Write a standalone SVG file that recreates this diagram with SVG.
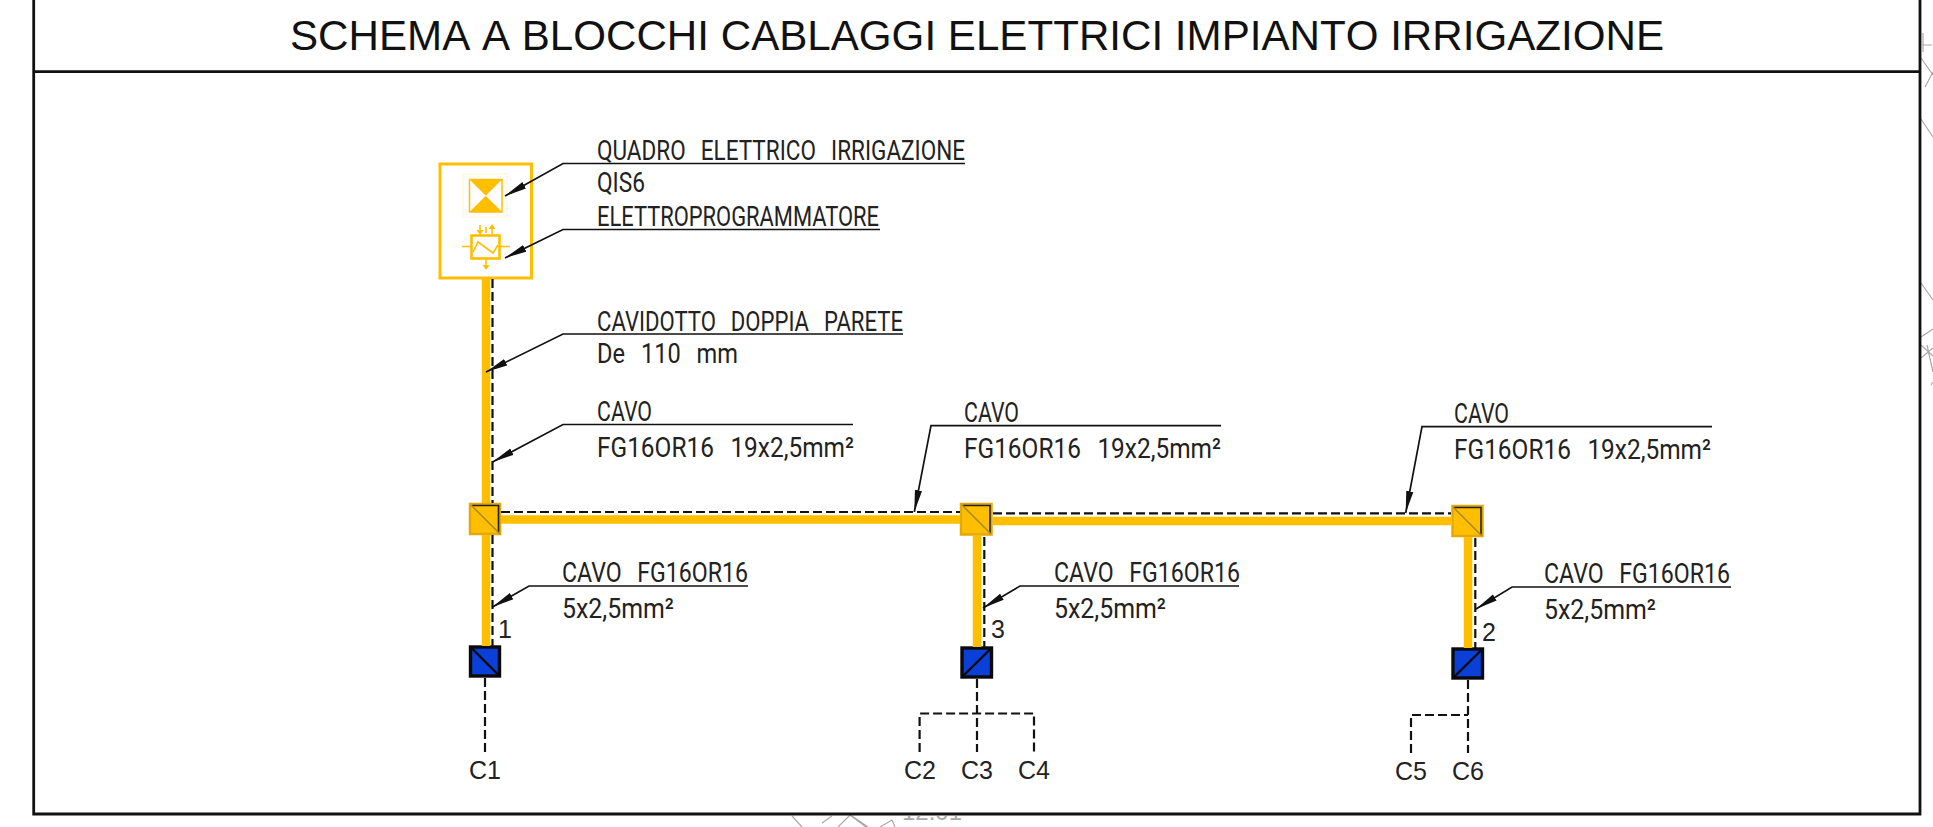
<svg xmlns="http://www.w3.org/2000/svg" width="1933" height="827" viewBox="0 0 1933 827">
<style>
.frame{stroke:#111;stroke-width:2.8;fill:none}
.bg{stroke:#a8a8a8;stroke-width:1.2;fill:none}
.duct{stroke:#ffbf00;stroke-width:8.5;fill:none}
.dash{stroke:#111;stroke-width:2.2;fill:none;stroke-dasharray:9 4}
.lead{stroke:#111;stroke-width:1.7;fill:none;marker-end:url(#arrow)}
.cad{font-family:"Roboto","Liberation Sans",sans-serif;font-weight:400;font-size:28px;fill:#222;white-space:pre;word-spacing:2.5px}
.lab{font-family:"Liberation Sans",Arial,sans-serif;font-size:25px;fill:#222;text-anchor:middle}
.title{font-family:"Liberation Sans",Arial,sans-serif;font-size:43px;fill:#111;font-kerning:none}
.box{fill:#ffbf00;stroke:#e3a900;stroke-width:2.5}
.inner{fill:none;stroke:#222;stroke-width:1.6}
.diag{stroke:#a88a20;stroke-width:1.5;fill:none}
.blue{fill:#0a3fd8;stroke:#0a0a0a;stroke-width:3.4}
.sym{stroke:#ffbf00;fill:none}
</style>
<defs>
<marker id="arrow" markerUnits="userSpaceOnUse" markerWidth="24" markerHeight="10" refX="22" refY="4" orient="auto"><path d="M0 0.4L22 4L0 7.600z" fill="#111"/></marker>
<clipPath id="below"><rect x="0" y="816" width="1933" height="11"/></clipPath>
</defs>

<g id="background-fragments">
<path class="bg" d="M1923 33V52M1922 45H1932M1921 58L1933 75M1933 72L1925 87M1921 119L1933 137M1921 283L1933 300M1921 337L1933 329M1921 345L1933 356M1921 358L1933 348M1927 345L1933 372M1931 385L1933 382"/>
<path class="bg" d="M792 816L802 827M832 816L822 823M838 827L850 815L866 827M852 816L868 827M880 827L892 820L895 827"/>
<text x="902" y="820" clip-path="url(#below)" style="font-family:'Liberation Sans',sans-serif;font-size:24px;fill:#a8a8a8">12.01</text>
</g>

<g id="frame">
<path class="frame" d="M33.700 0V814H1920V0M33.700 71.700H1920"/>
</g>
<g id="title">
<text class="title" x="290" y="50" textLength="1374" lengthAdjust="spacingAndGlyphs">SCHEMA A BLOCCHI CABLAGGI ELETTRICI IMPIANTO IRRIGAZIONE</text>
</g>

<g id="quadro-irrigazione">
<rect x="440" y="164" width="91.500" height="114" fill="#fff" stroke="#ffbf00" stroke-width="3"/>
<rect x="463" y="174" width="44" height="43" fill="#fff" stroke="#fff4d6" stroke-width="1"/>
<rect x="469.500" y="179.500" width="32.500" height="32.500" fill="#fff" stroke="#ffbf00" stroke-width="1.500"/>
<path d="M469.500 179.500H502L485.750 195.750zM469.500 212H502L485.750 195.750z" fill="#ffbf00"/>
<rect x="471.500" y="235.500" width="28" height="23" fill="#fff" stroke="#ffbf00" stroke-width="2.600"/>
<path class="sym" stroke-width="1.600" d="M462 246.500H471M500 246.500H510M473 252L478 242L493 253L498 245"/>
<path class="sym" stroke-width="1.600" d="M480 225V233M492 234V226M486 227V233M486 260V266"/>
<path fill="#ffbf00" d="M476.500 230H483.500L480 235zM488.500 229H495.500L492 224zM482.500 265H489.500L486 270z"/>
</g>

<g id="giunzione-1">
<rect class="box" x="470" y="504" width="30" height="30"/>
<path class="inner" d="M472 505.500H498.500V532"/>
<path class="diag" d="M471 505L500 534"/>
</g>
<g id="giunzione-2">
<rect class="box" x="961" y="504" width="30.500" height="30.500"/>
<path class="inner" d="M963 505.500H990V533"/>
<path class="diag" d="M962 505L991 534"/>
</g>
<g id="giunzione-3">
<rect class="box" x="1452.500" y="506" width="30" height="30"/>
<path class="inner" d="M1454 507.500H1481V534.500"/>
<path class="diag" d="M1453 507L1482 536"/>
</g>

<g id="pozzetto-1">
<rect class="blue" x="470.500" y="647" width="29" height="29"/>
<path d="M470.500 647L499.500 676" stroke="#0a0a0a" stroke-width="2.400"/>
</g>
<g id="pozzetto-3">
<rect class="blue" x="962" y="648" width="29.500" height="29"/>
<path d="M962 677L991.500 648" stroke="#0a0a0a" stroke-width="2.400"/>
</g>
<g id="pozzetto-2">
<rect class="blue" x="1453" y="649" width="29.500" height="29"/>
<path d="M1453 678L1482.500 649" stroke="#0a0a0a" stroke-width="2.400"/>
</g>

<g id="connectors">
<path class="duct" d="M486 278V503M486 535V646"/>
<path class="duct" d="M501 519.500H960"/>
<path class="duct" d="M993 521H1451"/>
<path class="duct" d="M977 536V647"/>
<path class="duct" d="M1468 537V648"/>
<path class="dash" d="M492.500 279V503M492.500 535V646"/>
<path class="dash" d="M501 512H960"/>
<path class="dash" d="M993 513.300H1451"/>
<path class="dash" d="M984.300 537V647"/>
<path class="dash" d="M1475.300 538V648"/>
<path class="dash" d="M485 678V752"/>
<path class="dash" d="M977 679V752M919.600 752V713.500H1034V752"/>
<path class="dash" d="M1468 680V753M1411 753V715H1468"/>
<path class="lead" d="M965 163.500H563L505 196"/>
<path class="lead" d="M880 229.500H563L505 258"/>
<path class="lead" d="M903 334H563L486 372"/>
<path class="lead" d="M853 424.500H563L492.500 462"/>
<path class="lead" d="M1221 425.700H931L914.300 512"/>
<path class="lead" d="M1712 426.700H1422L1405.700 513"/>
<path class="lead" d="M748 586H529L492.500 607"/>
<path class="lead" d="M1239 586H1020L983 608"/>
<path class="lead" d="M1731 587H1512L1476 609"/>
</g>

<g id="labels">
<text class="cad" x="597" y="160" textLength="368" lengthAdjust="spacingAndGlyphs" xml:space="preserve">QUADRO  ELETTRICO  IRRIGAZIONE</text>
<text class="cad" x="597" y="192" textLength="48" lengthAdjust="spacingAndGlyphs">QIS6</text>
<text class="cad" x="597" y="226" textLength="282" lengthAdjust="spacingAndGlyphs">ELETTROPROGRAMMATORE</text>
<text class="cad" x="597" y="331" textLength="306" lengthAdjust="spacingAndGlyphs" xml:space="preserve">CAVIDOTTO  DOPPIA  PARETE</text>
<text class="cad" x="597" y="363" textLength="141" lengthAdjust="spacingAndGlyphs" xml:space="preserve">De  110  mm</text>
<text class="cad" x="597" y="421" textLength="55" lengthAdjust="spacingAndGlyphs">CAVO</text>
<text class="cad" x="597" y="457" textLength="257" lengthAdjust="spacingAndGlyphs" xml:space="preserve">FG16OR16  19x2,5mm²</text>
<text class="cad" x="964" y="422" textLength="55" lengthAdjust="spacingAndGlyphs">CAVO</text>
<text class="cad" x="964" y="458" textLength="257" lengthAdjust="spacingAndGlyphs" xml:space="preserve">FG16OR16  19x2,5mm²</text>
<text class="cad" x="1454" y="423" textLength="55" lengthAdjust="spacingAndGlyphs">CAVO</text>
<text class="cad" x="1454" y="459" textLength="257" lengthAdjust="spacingAndGlyphs" xml:space="preserve">FG16OR16  19x2,5mm²</text>
<text class="cad" x="562" y="582" textLength="186" lengthAdjust="spacingAndGlyphs" xml:space="preserve">CAVO  FG16OR16</text>
<text class="cad" x="562" y="618" textLength="112" lengthAdjust="spacingAndGlyphs">5x2,5mm²</text>
<text class="cad" x="1054" y="582" textLength="186" lengthAdjust="spacingAndGlyphs" xml:space="preserve">CAVO  FG16OR16</text>
<text class="cad" x="1054" y="618" textLength="112" lengthAdjust="spacingAndGlyphs">5x2,5mm²</text>
<text class="cad" x="1544" y="583" textLength="186" lengthAdjust="spacingAndGlyphs" xml:space="preserve">CAVO  FG16OR16</text>
<text class="cad" x="1544" y="619" textLength="112" lengthAdjust="spacingAndGlyphs">5x2,5mm²</text>
<text class="lab" x="505" y="638">1</text>
<text class="lab" x="998" y="638">3</text>
<text class="lab" x="1489" y="641">2</text>
<text class="lab" x="485" y="779">C1</text>
<text class="lab" x="920" y="779">C2</text>
<text class="lab" x="977" y="779">C3</text>
<text class="lab" x="1034" y="779">C4</text>
<text class="lab" x="1411" y="780">C5</text>
<text class="lab" x="1468" y="780">C6</text>
</g>
</svg>
